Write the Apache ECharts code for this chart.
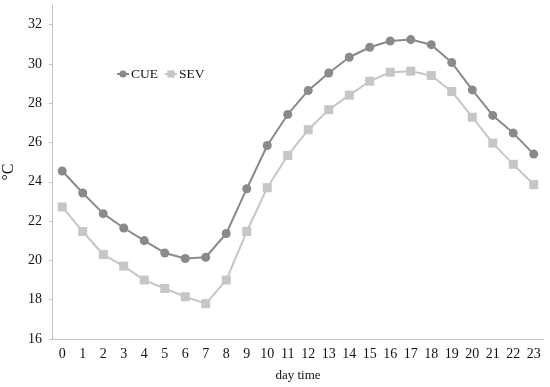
<!DOCTYPE html>
<html>
<head>
<meta charset="utf-8">
<script src="https://cdn.jsdelivr.net/npm/echarts@6/dist/echarts.min.js"></script>
<style>
  html, body { margin: 0; padding: 0; background: #fff; }
  #chart { width: 550px; height: 387px; }
</style>
</head>
<body>
<div id="chart"></div>
<script>
  var hours = ['0', '1', '2', '3', '4', '5', '6', '7', '8', '9', '10', '11',
    '12', '13', '14', '15', '16', '17', '18', '19', '20', '21', '22', '23'];
  var cue = [24.55, 23.43, 22.38, 21.65, 21.01, 20.38, 20.1, 20.16, 21.37, 23.65, 25.85, 27.43,
    28.65, 29.54, 30.34, 30.85, 31.17, 31.24, 30.98, 30.07, 28.68, 27.38, 26.48, 25.41];
  var sev = [22.72, 21.47, 20.3, 19.71, 19.0, 18.57, 18.15, 17.8, 19.0, 21.47, 23.7, 25.34,
    26.65, 27.67, 28.41, 29.12, 29.58, 29.63, 29.41, 28.6, 27.29, 25.97, 24.89, 23.86];
  var yTicks = [16, 18, 20, 22, 24, 26, 28, 30, 32];

  var font = 'Liberation Serif, Times New Roman, serif';
  var chart = echarts.init(document.getElementById('chart'));

  chart.setOption({
    animation: false,
    backgroundColor: '#fff',
    textStyle: { fontFamily: font },
    legend: {
      left: 111,
      top: 62,
      itemWidth: 12,
      itemHeight: 9,
      itemGap: 6,
      textStyle: { fontFamily: font, fontSize: 13.5, color: '#111', padding: [0, 0, 0, -3] },
      data: ['CUE', 'SEV']
    },
    grid: { left: 52, right: 6, top: 5, bottom: 48, outerBoundsMode: 'none', containLabel: false },
    xAxis: {
      type: 'category',
      data: hours,
      boundaryGap: true,
      name: 'day time',
      nameLocation: 'middle',
      nameGap: 30,
      nameTextStyle: { fontFamily: font, fontSize: 13, color: '#111' },
      axisLine: { lineStyle: { color: '#c4c4c4', width: 1 } },
      axisTick: { inside: true, length: 3, lineStyle: { color: '#c4c4c4' } },
      axisLabel: { fontFamily: font, fontSize: 14, color: '#111', margin: 8 }
    },
    yAxis: {
      type: 'value',
      min: 16,
      max: 33,
      interval: 2,
      name: '°C',
      nameLocation: 'middle',
      nameGap: 32,
      nameTextStyle: { fontFamily: font, fontSize: 16, color: '#111' },
      splitLine: { show: false },
      axisLine: { show: true, lineStyle: { color: '#c4c4c4', width: 1 } },
      axisTick: { show: true, length: 3, customValues: yTicks, lineStyle: { color: '#c4c4c4' } },
      axisLabel: { fontFamily: font, fontSize: 14, color: '#111', margin: 10, customValues: yTicks }
    },
    series: [
      {
        name: 'CUE',
        type: 'line',
        data: cue,
        symbol: 'circle',
        symbolSize: 9,
        lineStyle: { color: '#8a8a8a', width: 2 },
        itemStyle: { color: '#8a8a8a' }
      },
      {
        name: 'SEV',
        type: 'line',
        data: sev,
        symbol: 'rect',
        symbolSize: 9,
        lineStyle: { color: '#c6c6c6', width: 2 },
        itemStyle: { color: '#c6c6c6' }
      }
    ]
  });
</script>
</body>
</html>
